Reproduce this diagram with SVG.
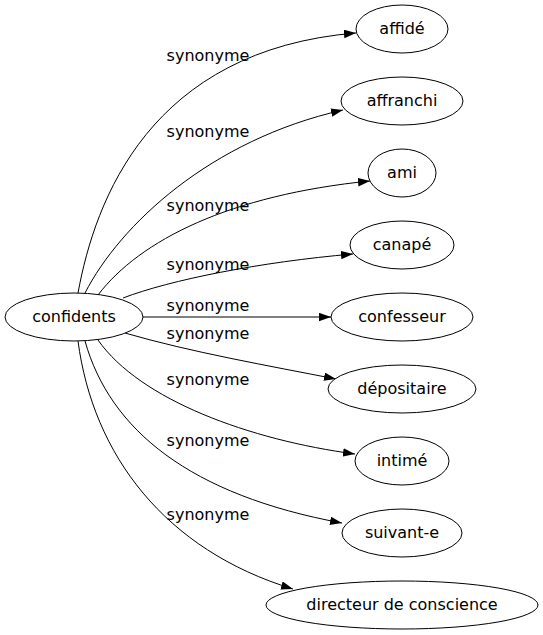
<svg xmlns="http://www.w3.org/2000/svg" width="543" height="635" viewBox="0 0 543 635">
<style>
.n ellipse{fill:#fff;stroke:#000;stroke-width:1}
text{font-family:"DejaVu Sans",sans-serif;font-size:16px;fill:#000;text-anchor:middle}
.e path{fill:none;stroke:#000;stroke-width:1;marker-end:url(#ah)}
</style>
<defs>
<marker id="ah" markerUnits="userSpaceOnUse" markerWidth="12" markerHeight="9" refX="12" refY="4.25" orient="auto"><path d="M0,0 L12,4.25 L0,8.5 z" fill="#000"/></marker>
</defs>
<rect width="543" height="635" fill="#fff"/>
<g id="edges" class="e">
<path d="M78,293 C95,200 150,50 356,33"/>
<path d="M85,293 C120,225 210,140 343,110"/>
<path d="M98,295 C140,240 230,195 370,181"/>
<path d="M123,298 C170,280 260,262 353,254"/>
<path d="M143,317 L331,317"/>
<path d="M125,333 C190,352 270,366 336,379"/>
<path d="M98,340 C140,400 250,440 355,454"/>
<path d="M85,341 C110,430 190,495 342,523"/>
<path d="M78,341 C93,455 165,550 293,589"/>
</g>
<g id="labels">
<text x="208" y="61">synonyme</text>
<text x="208" y="137">synonyme</text>
<text x="208" y="211">synonyme</text>
<text x="208" y="270">synonyme</text>
<text x="208" y="311">synonyme</text>
<text x="208" y="339">synonyme</text>
<text x="208" y="385">synonyme</text>
<text x="208" y="446">synonyme</text>
<text x="208" y="520">synonyme</text>
</g>
<g id="confidents" class="n"><ellipse cx="74" cy="317" rx="69" ry="24"/><text x="74" y="322">confidents</text></g>
<g id="affide" class="n"><ellipse cx="402" cy="29" rx="46" ry="24"/><text x="402" y="34">affidé</text></g>
<g id="affranchi" class="n"><ellipse cx="402" cy="101" rx="61" ry="24"/><text x="402" y="106">affranchi</text></g>
<g id="ami" class="n"><ellipse cx="402" cy="173" rx="34" ry="24"/><text x="402" y="178">ami</text></g>
<g id="canape" class="n"><ellipse cx="402" cy="245" rx="52" ry="24"/><text x="402" y="250">canapé</text></g>
<g id="confesseur" class="n"><ellipse cx="402" cy="317" rx="71" ry="24"/><text x="402" y="322">confesseur</text></g>
<g id="depositaire" class="n"><ellipse cx="402" cy="389" rx="74" ry="24"/><text x="402" y="394">dépositaire</text></g>
<g id="intime" class="n"><ellipse cx="402" cy="461" rx="47" ry="24"/><text x="402" y="466">intimé</text></g>
<g id="suivant-e" class="n"><ellipse cx="402" cy="533" rx="60" ry="24"/><text x="402" y="538">suivant-e</text></g>
<g id="directeur" class="n"><ellipse cx="402" cy="605" rx="136" ry="24"/><text x="402" y="610">directeur de conscience</text></g>
</svg>
